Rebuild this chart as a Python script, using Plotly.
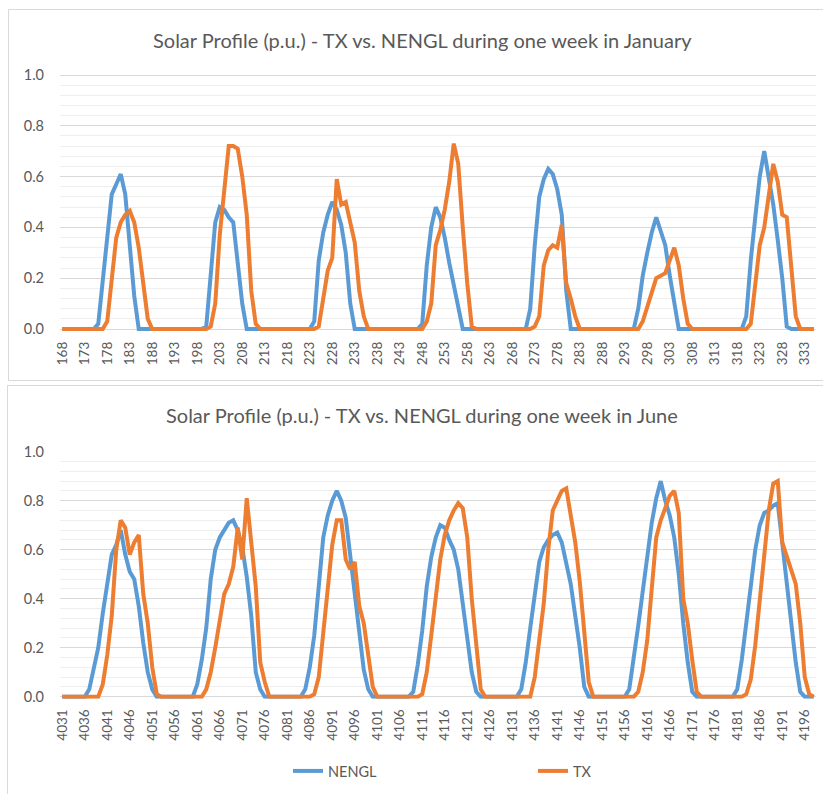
import plotly.graph_objects as go

# ---------------- data ----------------
hours_per_week = 168
jan_start = 168
jun_start = 4031
jan_tick_labels = list(range(168, 334, 5))
jun_tick_labels = list(range(4031, 4197, 5))

# daily segments: (first hour, values); all other hours are 0
jan_nengl_segments = [
    (176, [0.02, 0.20, 0.37, 0.53, 0.57, 0.61, 0.53, 0.35, 0.13]),
    (200, [0.01, 0.23, 0.42, 0.48, 0.47, 0.44, 0.42, 0.26, 0.10]),
    (224, [0.03, 0.27, 0.38, 0.45, 0.50, 0.47, 0.41, 0.30, 0.10]),
    (248, [0.02, 0.25, 0.40, 0.48, 0.44, 0.36, 0.26, 0.17, 0.08]),
    (272, [0.08, 0.33, 0.52, 0.59, 0.63, 0.61, 0.55, 0.45, 0.15]),
    (296, [0.08, 0.21, 0.30, 0.38, 0.44, 0.39, 0.33, 0.21, 0.10]),
    (320, [0.05, 0.27, 0.44, 0.60, 0.70, 0.60, 0.49, 0.35, 0.20, 0.01]),
]
jan_tx_segments = [
    (178, [0.03, 0.20, 0.36, 0.42, 0.45, 0.465, 0.42, 0.32, 0.19, 0.04]),
    (201, [0.01, 0.10, 0.37, 0.55, 0.72, 0.72, 0.71, 0.60, 0.45, 0.15, 0.02]),
    (225, [0.01, 0.12, 0.23, 0.28, 0.59, 0.49, 0.50, 0.42, 0.34, 0.15, 0.05]),
    (249, [0.03, 0.10, 0.33, 0.39, 0.47, 0.58, 0.73, 0.65, 0.40, 0.18, 0.01]),
    (273, [0.01, 0.05, 0.25, 0.31, 0.33, 0.32, 0.41, 0.18, 0.12, 0.05]),
    (297, [0.03, 0.09, 0.15, 0.20, 0.21, 0.22, 0.27, 0.32, 0.25, 0.12, 0.02]),
    (321, [0.02, 0.17, 0.33, 0.40, 0.53, 0.65, 0.58, 0.45, 0.44, 0.23, 0.05]),
]
jun_nengl_segments = [
    (4037, [0.03, 0.12, 0.20, 0.34, 0.47, 0.58, 0.62, 0.68, 0.58, 0.51, 0.48, 0.37, 0.22, 0.10, 0.03]),
    (4061, [0.05, 0.15, 0.28, 0.48, 0.60, 0.65, 0.68, 0.71, 0.72, 0.68, 0.61, 0.49, 0.33, 0.10, 0.03]),
    (4085, [0.03, 0.12, 0.25, 0.45, 0.65, 0.74, 0.80, 0.84, 0.80, 0.73, 0.57, 0.44, 0.28, 0.11, 0.03]),
    (4109, [0.02, 0.13, 0.27, 0.45, 0.57, 0.65, 0.70, 0.69, 0.64, 0.60, 0.52, 0.37, 0.24, 0.10, 0.02]),
    (4133, [0.03, 0.14, 0.28, 0.43, 0.55, 0.61, 0.64, 0.66, 0.67, 0.63, 0.54, 0.46, 0.33, 0.20, 0.04]),
    (4157, [0.03, 0.15, 0.29, 0.43, 0.58, 0.71, 0.81, 0.88, 0.80, 0.74, 0.65, 0.50, 0.30, 0.14, 0.02]),
    (4181, [0.03, 0.15, 0.30, 0.46, 0.60, 0.70, 0.75, 0.76, 0.78, 0.79, 0.63, 0.48, 0.32, 0.14, 0.02]),
]
jun_tx_segments = [
    (4040, [0.05, 0.17, 0.33, 0.60, 0.72, 0.69, 0.58, 0.63, 0.66, 0.42, 0.30, 0.12, 0.01]),
    (4063, [0.03, 0.10, 0.20, 0.30, 0.42, 0.46, 0.53, 0.69, 0.56, 0.81, 0.64, 0.45, 0.14, 0.06]),
    (4087, [0.01, 0.08, 0.26, 0.45, 0.62, 0.72, 0.72, 0.56, 0.52, 0.55, 0.37, 0.30, 0.16, 0.04]),
    (4111, [0.01, 0.10, 0.25, 0.42, 0.56, 0.66, 0.72, 0.76, 0.79, 0.77, 0.65, 0.40, 0.20, 0.03]),
    (4136, [0.08, 0.22, 0.38, 0.60, 0.76, 0.80, 0.84, 0.85, 0.75, 0.63, 0.47, 0.24, 0.06]),
    (4159, [0.02, 0.10, 0.23, 0.45, 0.65, 0.72, 0.77, 0.82, 0.84, 0.75, 0.40, 0.30, 0.15, 0.02]),
    (4183, [0.01, 0.07, 0.21, 0.40, 0.58, 0.76, 0.87, 0.88, 0.63, 0.57, 0.52, 0.46, 0.30, 0.08, 0.01]),
]


def build(start, segments):
    vals = [0.0] * hours_per_week
    for first, seg in segments:
        for k, v in enumerate(seg):
            vals[first - start + k] = v
    return vals


jan_hours = list(range(jan_start, jan_start + hours_per_week))
jun_hours = list(range(jun_start, jun_start + hours_per_week))
jan_nengl = build(jan_start, jan_nengl_segments)
jan_tx = build(jan_start, jan_tx_segments)
jun_nengl = build(jun_start, jun_nengl_segments)
jun_tx = build(jun_start, jun_tx_segments)

# ---------------- figure ----------------
W, H = 823, 794
BLUE = "#5B9BD5"
ORANGE = "#ED7D31"
GRAY = "#595959"
FONT = "Lato"
LW = 4


def px_x(p):
    return p / W


def px_y(p):
    return 1 - p / H


fig = go.Figure()
fig.add_trace(go.Scatter(x=jan_hours, y=jan_nengl, name="NENGL", mode="lines",
                         line=dict(color=BLUE, width=LW), xaxis="x", yaxis="y", showlegend=False))
fig.add_trace(go.Scatter(x=jan_hours, y=jan_tx, name="TX", mode="lines",
                         line=dict(color=ORANGE, width=LW), xaxis="x", yaxis="y", showlegend=False))
fig.add_trace(go.Scatter(x=jun_hours, y=jun_nengl, name="NENGL", mode="lines",
                         line=dict(color=BLUE, width=LW), xaxis="x2", yaxis="y2", legend="legend"))
fig.add_trace(go.Scatter(x=jun_hours, y=jun_tx, name="TX", mode="lines",
                         line=dict(color=ORANGE, width=LW), xaxis="x2", yaxis="y2", legend="legend2"))

ylo, yhi = -0.008, 1.004
# top plot: 0 at y=329px, 1.0 at 75px ; bottom plot: 0 at 696.7px, 1.0 at 451px
top_b = 329 - ylo * 254
top_t = 329 - yhi * 254
bot_b = 696.7 - ylo * 245
bot_t = 696.7 - yhi * 245

xdom = [px_x(60), px_x(816)]
common_x = dict(tickangle=-90, showgrid=False, zeroline=False, showline=False,
                ticks="", tickfont=dict(family=FONT, size=13.5, color=GRAY),
                ticklabelstandoff=7, fixedrange=True, automargin=False)
common_y = dict(range=[ylo, yhi], tickvals=[0, 0.2, 0.4, 0.6, 0.8, 1.0],
                ticktext=["0.0", "0.2", "0.4", "0.6", "0.8", "1.0"],
                showgrid=True, gridcolor="#D9D9D9", gridwidth=1, zeroline=False,
                showline=False, ticks="", tickfont=dict(family=FONT, size=14.5, color=GRAY),
                ticklabelstandoff=15, automargin=False,
                minor=dict(dtick=0.04, tick0=0, showgrid=True, gridcolor="#EEEEEE", gridwidth=1))

leg_common = dict(orientation="h", xanchor="left", yanchor="middle",
                  font=dict(family=FONT, size=14.5, color=GRAY), bgcolor="rgba(0,0,0,0)",
                  borderwidth=0)

fig.update_layout(
    width=W, height=H,
    autosize=False,
    margin=dict(l=0, r=0, t=0, b=0, pad=0, autoexpand=False),
    paper_bgcolor="white", plot_bgcolor="white",
    font=dict(family=FONT, color=GRAY),
    xaxis=dict(domain=xdom, range=[jan_start - 0.5, jan_start + hours_per_week - 0.5],
               tickvals=jan_tick_labels, anchor="y", **common_x),
    yaxis=dict(domain=[px_y(top_b), px_y(top_t)], anchor="x", **common_y),
    xaxis2=dict(domain=xdom, range=[jun_start - 0.5, jun_start + hours_per_week - 0.5],
                tickvals=jun_tick_labels, anchor="y2", **common_x),
    yaxis2=dict(domain=[px_y(bot_b), px_y(bot_t)], anchor="x2", **common_y),
    legend=dict(x=px_x(288), y=px_y(771), **leg_common),
    legend2=dict(x=px_x(533), y=px_y(771), **leg_common),
    showlegend=True,
)

fig.add_annotation(text="Solar Profile (p.u.) - TX vs. NENGL during one week in January",
                   x=px_x(422), y=px_y(40), xref="paper", yref="paper", showarrow=False,
                   xanchor="center", yanchor="middle", font=dict(family=FONT, size=20, color=GRAY))
fig.add_annotation(text="Solar Profile (p.u.) - TX vs. NENGL during one week in June",
                   x=px_x(422), y=px_y(415), xref="paper", yref="paper", showarrow=False,
                   xanchor="center", yanchor="middle", font=dict(family=FONT, size=20, color=GRAY))

# chart frames
fig.add_shape(type="rect", xref="paper", yref="paper", x0=px_x(8.5), x1=1.02,
              y0=px_y(380.5), y1=px_y(9.5), line=dict(color="#D9D9D9", width=1))
fig.add_shape(type="rect", xref="paper", yref="paper", x0=px_x(7.5), x1=1.02,
              y0=-0.02, y1=px_y(385.5), line=dict(color="#D9D9D9", width=1))

fig.write_html("out.html")
